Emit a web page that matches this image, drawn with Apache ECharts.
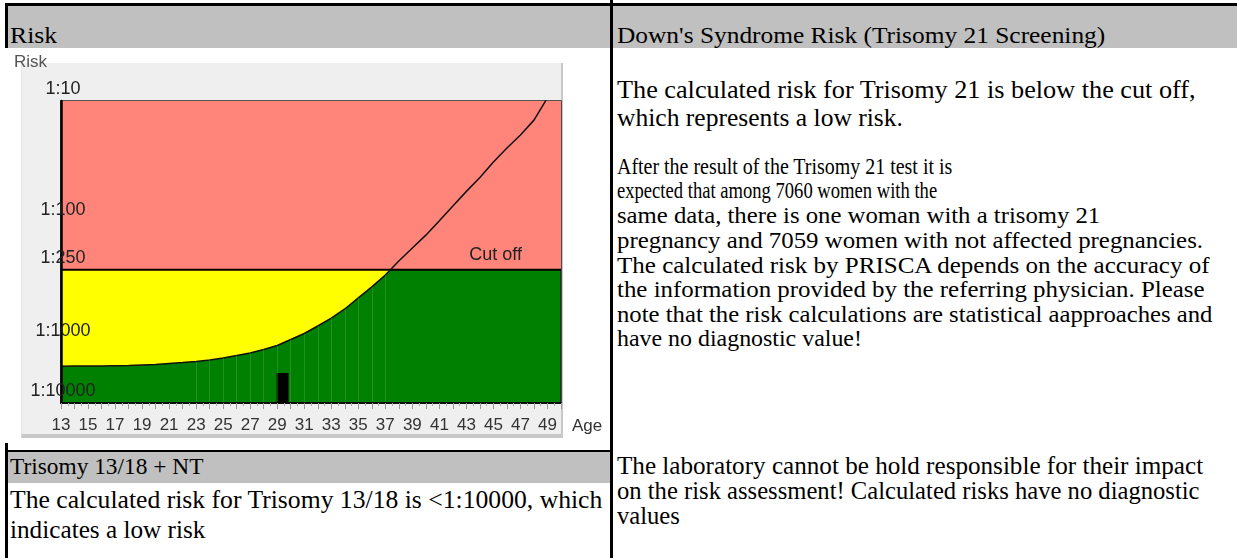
<!DOCTYPE html>
<html><head><meta charset="utf-8">
<script src="https://cdn.jsdelivr.net/npm/echarts@6/dist/echarts.min.js"></script>
<style>
html,body{margin:0;padding:0}
body{width:1237px;height:558px;overflow:hidden;background:#fff;position:relative;font-family:"Liberation Serif","Times New Roman",serif;color:#000}
.band{position:absolute;background:#c0c0c0}
.bl{position:absolute;background:#000}
.t{position:absolute;white-space:nowrap;transform-origin:0 50%;line-height:1}
#panel{position:absolute;left:21px;top:63px;width:542px;height:375px;box-sizing:border-box;background:#efefef;border-right:2px solid #c8c8c8;border-bottom:4px solid #c8c8c8;border-left:1px solid #e4e4e4}
#chart{position:absolute;left:0;top:48px;width:610px;height:394px}
</style></head><body>
<div class="band" style="left:8px;top:6px;width:602px;height:42px"></div>
<div class="band" style="left:613px;top:6px;width:624px;height:42px"></div>
<div class="band" style="left:8px;top:452px;width:602px;height:31px"></div>
<div class="bl" style="left:5px;top:3px;width:1232px;height:3px"></div>
<div class="bl" style="left:5px;top:3px;width:3px;height:45px"></div>
<div class="bl" style="left:5px;top:443px;width:3px;height:115px"></div>
<div class="bl" style="left:5px;top:450px;width:607px;height:2px"></div>
<div class="bl" style="left:610px;top:0;width:3px;height:558px"></div>
<div id="panel"></div>
<div id="chart"></div>

<div class="t" style="left:10px;top:24px;font-size:23px" data-w="47">Risk</div>
<div class="t" style="left:617px;top:24px;font-size:23px" data-w="488">Down's Syndrome Risk (Trisomy 21 Screening)</div>
<div class="t" style="left:617px;top:77px;font-size:26px" data-w="579">The calculated risk for Trisomy 21 is below the cut off,</div>
<div class="t" style="left:617px;top:105px;font-size:26px" data-w="286">which represents a low risk.</div>
<div class="t" style="left:617px;top:154px;font-size:24px" data-w="335">After the result of the Trisomy 21 test it is</div>
<div class="t" style="left:617px;top:178px;font-size:24px" data-w="320">expected that among 7060 women with the</div>
<div class="t" style="left:617px;top:203px;font-size:24px" data-w="483">same data, there is one woman with a trisomy 21</div>
<div class="t" style="left:617px;top:228px;font-size:24px" data-w="586">pregnancy and 7059 women with not affected pregnancies.</div>
<div class="t" style="left:617px;top:253px;font-size:24px" data-w="593">The calculated risk by PRISCA depends on the accuracy of</div>
<div class="t" style="left:617px;top:277px;font-size:24px" data-w="588">the information provided by the referring physician. Please</div>
<div class="t" style="left:617px;top:302px;font-size:24px" data-w="595">note that the risk calculations are statistical aapproaches and</div>
<div class="t" style="left:617px;top:326px;font-size:24px" data-w="245">have no diagnostic value!</div>
<div class="t" style="left:617px;top:453px;font-size:25px" data-w="586">The laboratory cannot be hold responsible for their impact</div>
<div class="t" style="left:617px;top:478px;font-size:25px" data-w="583">on the risk assessment! Calculated risks have no diagnostic</div>
<div class="t" style="left:617px;top:503px;font-size:25px" data-w="63">values</div>
<div class="t" style="left:10px;top:455px;font-size:23px" data-w="193">Trisomy 13/18 + NT</div>
<div class="t" style="left:10px;top:487px;font-size:26px" data-w="592">The calculated risk for Trisomy 13/18 is &lt;1:10000, which</div>
<div class="t" style="left:10px;top:517px;font-size:26px" data-w="195">indicates a low risk</div>

<script>
// ---- data ----
const ages = [13,14,15,16,17,18,19,20,21,22,23,24,25,26,27,28,29,30,31,32,33,34,35,36,37,38,39,40,41,42,43,44,45,46,47,48,49];
// age related risk, as 1:N
const riskDenominators = [2460,2450,2440,2430,2410,2393,2349,2305,2218,2136,2056,1941,1798,1635,1486,1301,1117,943,841,729,626,527,427,346,276,211,165,129,98,74,56,43,32,24.5,19.1,14.4,9.4];
const cutoffDenominator = 250;
const yTickDenominators = [10,100,250,1000,10000];
const xLabelAges = [13,15,17,19,21,23,25,27,29,31,33,35,37,39,41,43,45,47,49];
const seamAges = [23,24,25,26,27,28,29,30,31,32,33,34,35,36,37];
const patientAge = [29.4];
const patientMarkerDenominator = [3190];

// risk axis: log scale, last decade (1:1000 - 1:10000) compressed to half
function axisPos(d){const l=Math.log10(d);return l<=3?3.5-l:3.5-(3+(l-3)*0.5);}

const FONT='"Liberation Sans", Arial, sans-serif';
const cT = axisPos(cutoffDenominator);
const curve = ages.map((a,i)=>[a, axisPos(riskDenominators[i])]);
const yTickPos = yTickDenominators.map(axisPos);
const seams = seamAges.map(a=>{const i=ages.indexOf(a);return [{coord:[a,0]},{coord:[a,Math.min(axisPos(riskDenominators[i]),cT)]}];});

const chart = echarts.init(document.getElementById('chart'));
chart.setOption({
  animation:false,
  grid:{left:61,top:53,width:500,height:302,show:true,backgroundColor:'#008000',borderColor:'#222',borderWidth:1.5},
  xAxis:{type:'value',min:13,max:50,interval:1,z:10,
    name:'Age',nameLocation:'end',nameGap:11,
    nameTextStyle:{fontFamily:FONT,fontSize:17,color:'#333',align:'left',verticalAlign:'top',padding:[15,0,0,0]},
    axisLine:{show:true,onZero:false,lineStyle:{color:'#000',width:1.5}},
    axisTick:{show:true,length:6,lineStyle:{color:'#999'}},
    minorTick:{show:true,splitNumber:2,length:3,lineStyle:{color:'#aaa'}},
    splitLine:{show:false},
    axisLabel:{customValues:xLabelAges,color:'#333',fontSize:17,margin:14,fontFamily:FONT}},
  yAxis:{type:'value',min:0,max:2.5,z:10,
    name:'Risk',nameLocation:'end',nameGap:39,
    nameTextStyle:{fontFamily:FONT,fontSize:17,color:'#555',align:'right',verticalAlign:'middle',padding:[0,14,0,0]},
    axisLine:{show:true,lineStyle:{color:'#000',width:2.5}},
    axisTick:{show:false},splitLine:{show:false},
    axisLabel:{customValues:yTickPos,margin:-2,align:'center',verticalAlign:'bottom',lineHeight:24,
      fontSize:18,color:'#222',fontFamily:FONT,
      formatter:v=>{let k=0,b=1e9;yTickPos.forEach((p,i)=>{if(Math.abs(p-v)<b){b=Math.abs(p-v);k=i;}});return '1:'+yTickDenominators[k];}}},
  series:[
    {type:'line',name:'yellow',data:curve,symbol:'none',silent:true,z:1,
      lineStyle:{width:0},areaStyle:{color:'#ffff00',opacity:1,origin:'end'},
      markLine:{silent:true,symbol:'none',label:{show:false},lineStyle:{color:'rgba(110,185,90,0.3)',width:1,type:'solid'},data:seams}},
    {type:'line',name:'cutoff',data:[[13,cT],[50,cT]],symbol:'none',silent:true,z:2,
      lineStyle:{color:'#000',width:2},areaStyle:{color:'#ff857a',opacity:1,origin:'end'},
      markLine:{silent:true,symbol:'none',lineStyle:{width:0},
        label:{show:true,position:'insideEndTop',distance:[39,6],formatter:'Cut off',fontFamily:FONT,fontSize:18,color:'#222'},
        data:[{yAxis:cT}]}},
    {type:'bar',name:'patient',data:patientAge.map((a,i)=>[a,axisPos(patientMarkerDenominator[i])]),barWidth:12,z:3,silent:true,itemStyle:{color:'#000'}},
    {type:'line',name:'risk curve',data:curve,symbol:'none',silent:true,z:4,lineStyle:{color:'#111',width:1.5}}
  ]
});

document.querySelectorAll('.t').forEach(el=>{const w=+el.dataset.w;const n=el.offsetWidth;if(n>0)el.style.transform='scaleX('+(w/n)+')';});
</script>
</body></html>
